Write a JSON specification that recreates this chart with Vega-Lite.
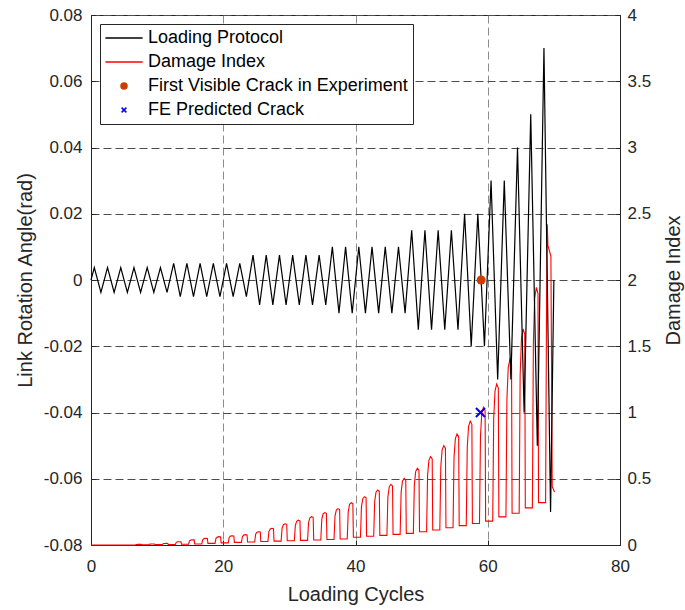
{
  "$schema": "https://vega.github.io/schema/vega-lite/v6.json",
  "width": 529,
  "height": 530,
  "autosize": {"type": "none"},
  "padding": {"left": 91, "top": 15, "right": 65, "bottom": 65},
  "background": "white",
  "config": {
    "font": "Liberation Sans",
    "view": {"stroke": "#262626", "strokeWidth": 1},
    "axis": {
      "labelFont": "Liberation Sans",
      "labelFontSize": 17,
      "labelColor": "#262626",
      "labelFlush": false,
      "titleFont": "Liberation Sans",
      "titleFontSize": 20,
      "titleFontWeight": "normal",
      "titleColor": "#262626",
      "domainColor": "#262626",
      "tickColor": "#262626",
      "tickSize": -5,
      "gridDash": [8, 4],
      "gridWidth": 1
    }
  },
  "datasets": {
    "protocol": [
      {"cycle": 0, "rotation": 0, "series": "Loading Protocol"},
      {"cycle": 0.5, "rotation": 0.00375, "series": "Loading Protocol"},
      {"cycle": 1.5, "rotation": -0.00375, "series": "Loading Protocol"},
      {"cycle": 2.5, "rotation": 0.00375, "series": "Loading Protocol"},
      {"cycle": 3.5, "rotation": -0.00375, "series": "Loading Protocol"},
      {"cycle": 4.5, "rotation": 0.00375, "series": "Loading Protocol"},
      {"cycle": 5.5, "rotation": -0.00375, "series": "Loading Protocol"},
      {"cycle": 6.5, "rotation": 0.00375, "series": "Loading Protocol"},
      {"cycle": 7.5, "rotation": -0.00375, "series": "Loading Protocol"},
      {"cycle": 8.5, "rotation": 0.00375, "series": "Loading Protocol"},
      {"cycle": 9.5, "rotation": -0.00375, "series": "Loading Protocol"},
      {"cycle": 10.5, "rotation": 0.00375, "series": "Loading Protocol"},
      {"cycle": 11.5, "rotation": -0.00375, "series": "Loading Protocol"},
      {"cycle": 12.5, "rotation": 0.005, "series": "Loading Protocol"},
      {"cycle": 13.5, "rotation": -0.005, "series": "Loading Protocol"},
      {"cycle": 14.5, "rotation": 0.005, "series": "Loading Protocol"},
      {"cycle": 15.5, "rotation": -0.005, "series": "Loading Protocol"},
      {"cycle": 16.5, "rotation": 0.005, "series": "Loading Protocol"},
      {"cycle": 17.5, "rotation": -0.005, "series": "Loading Protocol"},
      {"cycle": 18.5, "rotation": 0.005, "series": "Loading Protocol"},
      {"cycle": 19.5, "rotation": -0.005, "series": "Loading Protocol"},
      {"cycle": 20.5, "rotation": 0.005, "series": "Loading Protocol"},
      {"cycle": 21.5, "rotation": -0.005, "series": "Loading Protocol"},
      {"cycle": 22.5, "rotation": 0.005, "series": "Loading Protocol"},
      {"cycle": 23.5, "rotation": -0.005, "series": "Loading Protocol"},
      {"cycle": 24.5, "rotation": 0.0075, "series": "Loading Protocol"},
      {"cycle": 25.5, "rotation": -0.0075, "series": "Loading Protocol"},
      {"cycle": 26.5, "rotation": 0.0075, "series": "Loading Protocol"},
      {"cycle": 27.5, "rotation": -0.0075, "series": "Loading Protocol"},
      {"cycle": 28.5, "rotation": 0.0075, "series": "Loading Protocol"},
      {"cycle": 29.5, "rotation": -0.0075, "series": "Loading Protocol"},
      {"cycle": 30.5, "rotation": 0.0075, "series": "Loading Protocol"},
      {"cycle": 31.5, "rotation": -0.0075, "series": "Loading Protocol"},
      {"cycle": 32.5, "rotation": 0.0075, "series": "Loading Protocol"},
      {"cycle": 33.5, "rotation": -0.0075, "series": "Loading Protocol"},
      {"cycle": 34.5, "rotation": 0.0075, "series": "Loading Protocol"},
      {"cycle": 35.5, "rotation": -0.0075, "series": "Loading Protocol"},
      {"cycle": 36.5, "rotation": 0.01, "series": "Loading Protocol"},
      {"cycle": 37.5, "rotation": -0.01, "series": "Loading Protocol"},
      {"cycle": 38.5, "rotation": 0.01, "series": "Loading Protocol"},
      {"cycle": 39.5, "rotation": -0.01, "series": "Loading Protocol"},
      {"cycle": 40.5, "rotation": 0.01, "series": "Loading Protocol"},
      {"cycle": 41.5, "rotation": -0.01, "series": "Loading Protocol"},
      {"cycle": 42.5, "rotation": 0.01, "series": "Loading Protocol"},
      {"cycle": 43.5, "rotation": -0.01, "series": "Loading Protocol"},
      {"cycle": 44.5, "rotation": 0.01, "series": "Loading Protocol"},
      {"cycle": 45.5, "rotation": -0.01, "series": "Loading Protocol"},
      {"cycle": 46.5, "rotation": 0.01, "series": "Loading Protocol"},
      {"cycle": 47.5, "rotation": -0.01, "series": "Loading Protocol"},
      {"cycle": 48.5, "rotation": 0.015, "series": "Loading Protocol"},
      {"cycle": 49.5, "rotation": -0.015, "series": "Loading Protocol"},
      {"cycle": 50.5, "rotation": 0.015, "series": "Loading Protocol"},
      {"cycle": 51.5, "rotation": -0.015, "series": "Loading Protocol"},
      {"cycle": 52.5, "rotation": 0.015, "series": "Loading Protocol"},
      {"cycle": 53.5, "rotation": -0.015, "series": "Loading Protocol"},
      {"cycle": 54.5, "rotation": 0.015, "series": "Loading Protocol"},
      {"cycle": 55.5, "rotation": -0.015, "series": "Loading Protocol"},
      {"cycle": 56.5, "rotation": 0.02, "series": "Loading Protocol"},
      {"cycle": 57.5, "rotation": -0.02, "series": "Loading Protocol"},
      {"cycle": 58.5, "rotation": 0.02, "series": "Loading Protocol"},
      {"cycle": 59.5, "rotation": -0.02, "series": "Loading Protocol"},
      {"cycle": 60.5, "rotation": 0.03, "series": "Loading Protocol"},
      {"cycle": 61.5, "rotation": -0.03, "series": "Loading Protocol"},
      {"cycle": 62.5, "rotation": 0.03, "series": "Loading Protocol"},
      {"cycle": 63.5, "rotation": -0.03, "series": "Loading Protocol"},
      {"cycle": 64.5, "rotation": 0.04, "series": "Loading Protocol"},
      {"cycle": 65.5, "rotation": -0.04, "series": "Loading Protocol"},
      {"cycle": 66.5, "rotation": 0.05, "series": "Loading Protocol"},
      {"cycle": 67.5, "rotation": -0.05, "series": "Loading Protocol"},
      {"cycle": 68.5, "rotation": 0.07, "series": "Loading Protocol"},
      {"cycle": 69.5, "rotation": -0.07, "series": "Loading Protocol"},
      {"cycle": 70, "rotation": 0, "series": "Loading Protocol"}
    ],
    "damage": [
      {"cycle": 0, "damage": 0, "series": "Damage Index"},
      {"cycle": 6.75, "damage": 0.001, "series": "Damage Index"},
      {"cycle": 6.9, "damage": 0.004, "series": "Damage Index"},
      {"cycle": 7.1, "damage": 0.005, "series": "Damage Index"},
      {"cycle": 7.35, "damage": 0.005, "series": "Damage Index"},
      {"cycle": 7.6, "damage": 0.005, "series": "Damage Index"},
      {"cycle": 7.68, "damage": 0.002, "series": "Damage Index"},
      {"cycle": 8.75, "damage": 0.002, "series": "Damage Index"},
      {"cycle": 8.9, "damage": 0.0065, "series": "Damage Index"},
      {"cycle": 9.1, "damage": 0.0077, "series": "Damage Index"},
      {"cycle": 9.35, "damage": 0.008, "series": "Damage Index"},
      {"cycle": 9.6, "damage": 0.0078, "series": "Damage Index"},
      {"cycle": 9.68, "damage": 0.003, "series": "Damage Index"},
      {"cycle": 10.75, "damage": 0.003, "series": "Damage Index"},
      {"cycle": 10.9, "damage": 0.01, "series": "Damage Index"},
      {"cycle": 11.1, "damage": 0.0116, "series": "Damage Index"},
      {"cycle": 11.35, "damage": 0.012, "series": "Damage Index"},
      {"cycle": 11.6, "damage": 0.0117, "series": "Damage Index"},
      {"cycle": 11.68, "damage": 0.004, "series": "Damage Index"},
      {"cycle": 12.75, "damage": 0.004, "series": "Damage Index"},
      {"cycle": 12.9, "damage": 0.02, "series": "Damage Index"},
      {"cycle": 13.1, "damage": 0.024, "series": "Damage Index"},
      {"cycle": 13.35, "damage": 0.025, "series": "Damage Index"},
      {"cycle": 13.6, "damage": 0.024, "series": "Damage Index"},
      {"cycle": 13.68, "damage": 0.006, "series": "Damage Index"},
      {"cycle": 14.75, "damage": 0.006, "series": "Damage Index"},
      {"cycle": 14.9, "damage": 0.032, "series": "Damage Index"},
      {"cycle": 15.1, "damage": 0.038, "series": "Damage Index"},
      {"cycle": 15.35, "damage": 0.04, "series": "Damage Index"},
      {"cycle": 15.6, "damage": 0.039, "series": "Damage Index"},
      {"cycle": 15.68, "damage": 0.008, "series": "Damage Index"},
      {"cycle": 16.75, "damage": 0.008, "series": "Damage Index"},
      {"cycle": 16.9, "damage": 0.04, "series": "Damage Index"},
      {"cycle": 17.1, "damage": 0.048, "series": "Damage Index"},
      {"cycle": 17.35, "damage": 0.05, "series": "Damage Index"},
      {"cycle": 17.6, "damage": 0.049, "series": "Damage Index"},
      {"cycle": 17.68, "damage": 0.012, "series": "Damage Index"},
      {"cycle": 18.75, "damage": 0.012, "series": "Damage Index"},
      {"cycle": 18.9, "damage": 0.05, "series": "Damage Index"},
      {"cycle": 19.1, "damage": 0.06, "series": "Damage Index"},
      {"cycle": 19.35, "damage": 0.063, "series": "Damage Index"},
      {"cycle": 19.6, "damage": 0.061, "series": "Damage Index"},
      {"cycle": 19.68, "damage": 0.016, "series": "Damage Index"},
      {"cycle": 20.75, "damage": 0.016, "series": "Damage Index"},
      {"cycle": 20.9, "damage": 0.057, "series": "Damage Index"},
      {"cycle": 21.1, "damage": 0.067, "series": "Damage Index"},
      {"cycle": 21.35, "damage": 0.07, "series": "Damage Index"},
      {"cycle": 21.6, "damage": 0.068, "series": "Damage Index"},
      {"cycle": 21.68, "damage": 0.02, "series": "Damage Index"},
      {"cycle": 22.75, "damage": 0.02, "series": "Damage Index"},
      {"cycle": 22.9, "damage": 0.064, "series": "Damage Index"},
      {"cycle": 23.1, "damage": 0.075, "series": "Damage Index"},
      {"cycle": 23.35, "damage": 0.078, "series": "Damage Index"},
      {"cycle": 23.6, "damage": 0.076, "series": "Damage Index"},
      {"cycle": 23.68, "damage": 0.023, "series": "Damage Index"},
      {"cycle": 24.75, "damage": 0.023, "series": "Damage Index"},
      {"cycle": 24.9, "damage": 0.081, "series": "Damage Index"},
      {"cycle": 25.1, "damage": 0.096, "series": "Damage Index"},
      {"cycle": 25.35, "damage": 0.1, "series": "Damage Index"},
      {"cycle": 25.6, "damage": 0.098, "series": "Damage Index"},
      {"cycle": 25.68, "damage": 0.026, "series": "Damage Index"},
      {"cycle": 26.75, "damage": 0.026, "series": "Damage Index"},
      {"cycle": 26.9, "damage": 0.101, "series": "Damage Index"},
      {"cycle": 27.1, "damage": 0.121, "series": "Damage Index"},
      {"cycle": 27.35, "damage": 0.126, "series": "Damage Index"},
      {"cycle": 27.6, "damage": 0.123, "series": "Damage Index"},
      {"cycle": 27.68, "damage": 0.029, "series": "Damage Index"},
      {"cycle": 28.75, "damage": 0.029, "series": "Damage Index"},
      {"cycle": 28.9, "damage": 0.127, "series": "Damage Index"},
      {"cycle": 29.1, "damage": 0.153, "series": "Damage Index"},
      {"cycle": 29.35, "damage": 0.16, "series": "Damage Index"},
      {"cycle": 29.6, "damage": 0.156, "series": "Damage Index"},
      {"cycle": 29.68, "damage": 0.032, "series": "Damage Index"},
      {"cycle": 30.75, "damage": 0.032, "series": "Damage Index"},
      {"cycle": 30.9, "damage": 0.148, "series": "Damage Index"},
      {"cycle": 31.1, "damage": 0.179, "series": "Damage Index"},
      {"cycle": 31.35, "damage": 0.187, "series": "Damage Index"},
      {"cycle": 31.6, "damage": 0.182, "series": "Damage Index"},
      {"cycle": 31.68, "damage": 0.035, "series": "Damage Index"},
      {"cycle": 32.75, "damage": 0.035, "series": "Damage Index"},
      {"cycle": 32.9, "damage": 0.169, "series": "Damage Index"},
      {"cycle": 33.1, "damage": 0.205, "series": "Damage Index"},
      {"cycle": 33.35, "damage": 0.214, "series": "Damage Index"},
      {"cycle": 33.6, "damage": 0.209, "series": "Damage Index"},
      {"cycle": 33.68, "damage": 0.038, "series": "Damage Index"},
      {"cycle": 34.75, "damage": 0.038, "series": "Damage Index"},
      {"cycle": 34.9, "damage": 0.193, "series": "Damage Index"},
      {"cycle": 35.1, "damage": 0.235, "series": "Damage Index"},
      {"cycle": 35.35, "damage": 0.245, "series": "Damage Index"},
      {"cycle": 35.6, "damage": 0.239, "series": "Damage Index"},
      {"cycle": 35.68, "damage": 0.041, "series": "Damage Index"},
      {"cycle": 36.75, "damage": 0.041, "series": "Damage Index"},
      {"cycle": 36.9, "damage": 0.217, "series": "Damage Index"},
      {"cycle": 37.1, "damage": 0.263, "series": "Damage Index"},
      {"cycle": 37.35, "damage": 0.275, "series": "Damage Index"},
      {"cycle": 37.6, "damage": 0.268, "series": "Damage Index"},
      {"cycle": 37.68, "damage": 0.045, "series": "Damage Index"},
      {"cycle": 38.75, "damage": 0.045, "series": "Damage Index"},
      {"cycle": 38.9, "damage": 0.251, "series": "Damage Index"},
      {"cycle": 39.1, "damage": 0.306, "series": "Damage Index"},
      {"cycle": 39.35, "damage": 0.32, "series": "Damage Index"},
      {"cycle": 39.6, "damage": 0.312, "series": "Damage Index"},
      {"cycle": 39.68, "damage": 0.058, "series": "Damage Index"},
      {"cycle": 40.75, "damage": 0.058, "series": "Damage Index"},
      {"cycle": 40.9, "damage": 0.288, "series": "Damage Index"},
      {"cycle": 41.1, "damage": 0.35, "series": "Damage Index"},
      {"cycle": 41.35, "damage": 0.365, "series": "Damage Index"},
      {"cycle": 41.6, "damage": 0.356, "series": "Damage Index"},
      {"cycle": 41.68, "damage": 0.066, "series": "Damage Index"},
      {"cycle": 42.75, "damage": 0.066, "series": "Damage Index"},
      {"cycle": 42.9, "damage": 0.328, "series": "Damage Index"},
      {"cycle": 43.1, "damage": 0.398, "series": "Damage Index"},
      {"cycle": 43.35, "damage": 0.415, "series": "Damage Index"},
      {"cycle": 43.6, "damage": 0.405, "series": "Damage Index"},
      {"cycle": 43.68, "damage": 0.073, "series": "Damage Index"},
      {"cycle": 44.75, "damage": 0.073, "series": "Damage Index"},
      {"cycle": 44.9, "damage": 0.362, "series": "Damage Index"},
      {"cycle": 45.1, "damage": 0.439, "series": "Damage Index"},
      {"cycle": 45.35, "damage": 0.458, "series": "Damage Index"},
      {"cycle": 45.6, "damage": 0.446, "series": "Damage Index"},
      {"cycle": 45.68, "damage": 0.08, "series": "Damage Index"},
      {"cycle": 46.75, "damage": 0.08, "series": "Damage Index"},
      {"cycle": 46.9, "damage": 0.397, "series": "Damage Index"},
      {"cycle": 47.1, "damage": 0.482, "series": "Damage Index"},
      {"cycle": 47.35, "damage": 0.503, "series": "Damage Index"},
      {"cycle": 47.6, "damage": 0.49, "series": "Damage Index"},
      {"cycle": 47.68, "damage": 0.088, "series": "Damage Index"},
      {"cycle": 48.75, "damage": 0.088, "series": "Damage Index"},
      {"cycle": 48.9, "damage": 0.456, "series": "Damage Index"},
      {"cycle": 49.1, "damage": 0.554, "series": "Damage Index"},
      {"cycle": 49.35, "damage": 0.579, "series": "Damage Index"},
      {"cycle": 49.6, "damage": 0.564, "series": "Damage Index"},
      {"cycle": 49.68, "damage": 0.1, "series": "Damage Index"},
      {"cycle": 50.75, "damage": 0.1, "series": "Damage Index"},
      {"cycle": 50.9, "damage": 0.525, "series": "Damage Index"},
      {"cycle": 51.1, "damage": 0.639, "series": "Damage Index"},
      {"cycle": 51.35, "damage": 0.667, "series": "Damage Index"},
      {"cycle": 51.6, "damage": 0.65, "series": "Damage Index"},
      {"cycle": 51.68, "damage": 0.113, "series": "Damage Index"},
      {"cycle": 52.75, "damage": 0.113, "series": "Damage Index"},
      {"cycle": 52.9, "damage": 0.591, "series": "Damage Index"},
      {"cycle": 53.1, "damage": 0.718, "series": "Damage Index"},
      {"cycle": 53.35, "damage": 0.75, "series": "Damage Index"},
      {"cycle": 53.6, "damage": 0.731, "series": "Damage Index"},
      {"cycle": 53.68, "damage": 0.13, "series": "Damage Index"},
      {"cycle": 54.75, "damage": 0.13, "series": "Damage Index"},
      {"cycle": 54.9, "damage": 0.661, "series": "Damage Index"},
      {"cycle": 55.1, "damage": 0.803, "series": "Damage Index"},
      {"cycle": 55.35, "damage": 0.838, "series": "Damage Index"},
      {"cycle": 55.6, "damage": 0.817, "series": "Damage Index"},
      {"cycle": 55.68, "damage": 0.146, "series": "Damage Index"},
      {"cycle": 56.75, "damage": 0.146, "series": "Damage Index"},
      {"cycle": 56.9, "damage": 0.738, "series": "Damage Index"},
      {"cycle": 57.1, "damage": 0.896, "series": "Damage Index"},
      {"cycle": 57.35, "damage": 0.935, "series": "Damage Index"},
      {"cycle": 57.6, "damage": 0.911, "series": "Damage Index"},
      {"cycle": 57.68, "damage": 0.162, "series": "Damage Index"},
      {"cycle": 58.75, "damage": 0.162, "series": "Damage Index"},
      {"cycle": 58.9, "damage": 0.821, "series": "Damage Index"},
      {"cycle": 59.1, "damage": 0.996, "series": "Damage Index"},
      {"cycle": 59.35, "damage": 1.04, "series": "Damage Index"},
      {"cycle": 59.6, "damage": 1.014, "series": "Damage Index"},
      {"cycle": 59.68, "damage": 0.18, "series": "Damage Index"},
      {"cycle": 60.75, "damage": 0.18, "series": "Damage Index"},
      {"cycle": 60.9, "damage": 0.956, "series": "Damage Index"},
      {"cycle": 61.1, "damage": 1.163, "series": "Damage Index"},
      {"cycle": 61.35, "damage": 1.215, "series": "Damage Index"},
      {"cycle": 61.6, "damage": 1.184, "series": "Damage Index"},
      {"cycle": 61.68, "damage": 0.212, "series": "Damage Index"},
      {"cycle": 62.75, "damage": 0.212, "series": "Damage Index"},
      {"cycle": 62.9, "damage": 1.103, "series": "Damage Index"},
      {"cycle": 63.1, "damage": 1.341, "series": "Damage Index"},
      {"cycle": 63.35, "damage": 1.4, "series": "Damage Index"},
      {"cycle": 63.6, "damage": 1.364, "series": "Damage Index"},
      {"cycle": 63.68, "damage": 0.24, "series": "Damage Index"},
      {"cycle": 64.75, "damage": 0.24, "series": "Damage Index"},
      {"cycle": 64.9, "damage": 1.283, "series": "Damage Index"},
      {"cycle": 65.1, "damage": 1.561, "series": "Damage Index"},
      {"cycle": 65.35, "damage": 1.63, "series": "Damage Index"},
      {"cycle": 65.6, "damage": 1.588, "series": "Damage Index"},
      {"cycle": 65.68, "damage": 0.28, "series": "Damage Index"},
      {"cycle": 66.75, "damage": 0.28, "series": "Damage Index"},
      {"cycle": 66.9, "damage": 1.529, "series": "Damage Index"},
      {"cycle": 67.1, "damage": 1.862, "series": "Damage Index"},
      {"cycle": 67.35, "damage": 1.945, "series": "Damage Index"},
      {"cycle": 67.6, "damage": 1.895, "series": "Damage Index"},
      {"cycle": 67.68, "damage": 0.32, "series": "Damage Index"},
      {"cycle": 68.75, "damage": 0.32, "series": "Damage Index"},
      {"cycle": 68.9, "damage": 1.9, "series": "Damage Index"},
      {"cycle": 69.0, "damage": 2.42, "series": "Damage Index"},
      {"cycle": 69.1, "damage": 2.26, "series": "Damage Index"},
      {"cycle": 69.55, "damage": 2.18, "series": "Damage Index"},
      {"cycle": 69.75, "damage": 0.44, "series": "Damage Index"},
      {"cycle": 70.1, "damage": 0.4, "series": "Damage Index"}
    ],
    "crackExperiment": [
      {"cycle": 59, "rotation": 0, "series": "First Visible Crack in Experiment"}
    ],
    "crackFE": [
      {"cycle": 58.9, "damage": 1.0, "series": "FE Predicted Crack"}
    ]
  },
  "encoding": {
    "x": {
      "field": "cycle",
      "type": "quantitative",
      "scale": {"domain": [0, 80], "nice": false},
      "axis": {
        "values": [0, 20, 40, 60, 80],
        "title": "Loading Cycles",
        "grid": true,
        "gridColor": "#8c8c8c",
        "labelPadding": 18,
        "titlePadding": 10,
        "labelExpr": "format(datum.value, '~g')"
      }
    },
    "color": {
      "field": "series",
      "type": "nominal",
      "scale": {
        "domain": ["Loading Protocol", "Damage Index", "First Visible Crack in Experiment", "FE Predicted Crack"],
        "range": ["#000000", "#FF0000", "#CC3D00", "#0000FF"]
      },
      "legend": {
        "orient": "top-left",
        "offset": 9,
        "title": null,
        "labelFont": "Liberation Sans",
        "labelFontSize": 18,
        "labelColor": "#000000",
        "labelLimit": 400,
        "strokeColor": "#262626",
        "fillColor": "white",
        "padding": 5,
        "rowPadding": 6,
        "symbolSize": 36,
        "symbolStrokeWidth": 1.5,
        "symbolOffset": 10,
        "labelOffset": 15,
        "encode": {
          "symbols": {
            "update": {
              "stroke": {"scale": "color", "field": "value"},
              "fill": {"scale": "color", "field": "value"},
              "strokeWidth": {"value": 1.5},
              "opacity": {"value": 1}
            }
          }
        }
      }
    }
  },
  "layer": [
    {
      "encoding": {
        "y": {
          "field": "damage",
          "type": "quantitative",
          "scale": {"domain": [0, 4], "nice": false},
          "axis": {
            "orient": "right",
            "values": [0, 0.5, 1, 1.5, 2, 2.5, 3, 3.5, 4],
            "title": "Damage Index",
            "titleAngle": 270,
            "titleBaseline": "top",
            "grid": false,
            "labelPadding": 12,
            "titlePadding": 13,
            "labelExpr": "format(datum.value, '~g')"
          }
        }
      },
      "layer": [
        {
          "data": {"name": "damage"},
          "mark": {"type": "line", "strokeWidth": 1.1}
        },
        {
          "data": {"name": "crackFE"},
          "mark": {"type": "point", "filled": false, "strokeWidth": 2, "size": 130, "opacity": 1},
          "encoding": {
            "shape": {
              "field": "series",
              "type": "nominal",
              "scale": {
                "domain": ["Loading Protocol", "Damage Index", "First Visible Crack in Experiment", "FE Predicted Crack"],
                "range": ["M-6.2,0L6.2,0", "M-6.2,0L6.2,0", "circle", "M-0.8,-0.8L0.8,0.8M-0.8,0.8L0.8,-0.8"]
              }
            }
          }
        }
      ]
    },
    {
      "encoding": {
        "y": {
          "field": "rotation",
          "type": "quantitative",
          "scale": {"domain": [-0.08, 0.08], "nice": false},
          "axis": {
            "orient": "left",
            "values": [-0.08, -0.06, -0.04, -0.02, 0, 0.02, 0.04, 0.06, 0.08],
            "title": "Link Rotation Angle(rad)",
            "grid": true,
            "gridColor": "#4d4d4d",
            "labelPadding": 14,
            "titlePadding": 8,
            "labelExpr": "replace(format(datum.value, '~g'), '\u2212', '-')"
          }
        }
      },
      "layer": [
        {
          "data": {"name": "protocol"},
          "mark": {"type": "line", "strokeWidth": 1.2}
        },
        {
          "data": {"name": "crackExperiment"},
          "mark": {"type": "point", "filled": true, "size": 80, "opacity": 1},
          "encoding": {
            "shape": {
              "field": "series",
              "type": "nominal",
              "scale": {
                "domain": ["Loading Protocol", "Damage Index", "First Visible Crack in Experiment", "FE Predicted Crack"],
                "range": ["M-6.2,0L6.2,0", "M-6.2,0L6.2,0", "circle", "M-0.8,-0.8L0.8,0.8M-0.8,0.8L0.8,-0.8"]
              }
            }
          }
        }
      ]
    }
  ],
  "resolve": {"scale": {"y": "independent"}}
}
